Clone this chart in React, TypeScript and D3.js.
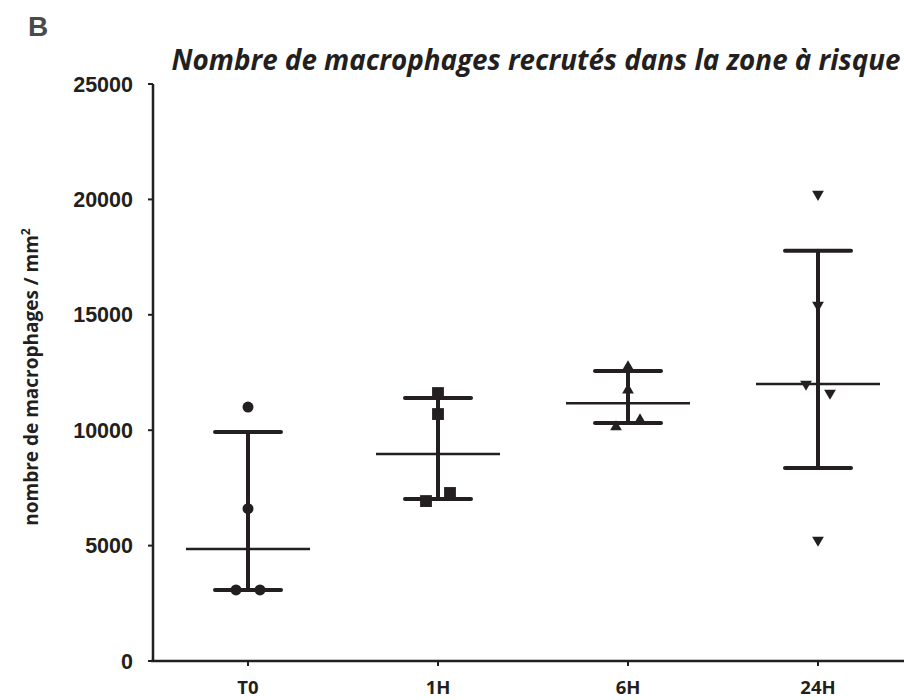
import * as d3 from 'd3'

const categories = ['T0', '1H', '6H', '24H']
const pointsT0 = [11000, 6600, 3080, 3080]
const points1H = [11610, 10700, 6930, 7280]
const points6H = [12740, 11740, 10140, 10440]
const points24H = [20230, 15420, 12000, 11610, 5240]
const centerLine = [4850, 8970, 11170, 12000]
const lowerBar = [3080, 7020, 10310, 8360]
const upperBar = [9920, 11400, 12570, 17770]
const yTicks = [0, 5000, 10000, 15000, 20000, 25000]

const groups = [pointsT0, points1H, points6H, points24H]
const symbols = [d3.symbolCircle, d3.symbolSquare, d3.symbolTriangle, d3.symbolTriangle]
const symbolSizes = [95, 140, 60, 60]
const rotations = [0, 0, 0, 180]

const W = 904
const H = 700
const ink = '#231f20'

// spread points that nearly overlap, as the scatter plot does
function offsets(vals: number[]) {
  const out = vals.map(() => 0)
  const used = vals.map(() => false)
  vals.forEach((v, i) => {
    if (used[i]) return
    const j = vals.findIndex((w, k) => k > i && !used[k] && Math.abs(w - v) < 500)
    if (j > 0) {
      out[i] = -12
      out[j] = 12
      used[i] = used[j] = true
    }
  })
  return out
}

export default function App() {
  const x = d3.scaleBand<string>().domain(categories).range([153, 913]).padding(0)
  const y = d3.scaleLinear().domain([0, 25000]).range([661, 84])
  const bw = x.bandwidth()

  return (
    <svg
      width={W}
      height={H}
      style={{ position: 'absolute', left: 0, top: 0, background: '#fff' }}
    >
      <text x={28} y={36} fontFamily="Liberation Sans, Arial" fontWeight="bold" fontSize={28} fill="#4a4a4a">
        B
      </text>
      <text
        x={536}
        y={70}
        textAnchor="middle"
        fontFamily="Open Sans"
        fontStyle="italic"
        fontWeight="bold"
        fontSize={27.8}
        fill={ink}
      >
        Nombre de macrophages recrutés dans la zone à risque
      </text>

      {/* y axis */}
      <line x1={153} x2={153} y1={y(25000)} y2={y(0)} stroke={ink} strokeWidth={2.5} />
      {yTicks.map((t) => (
        <g key={t}>
          <line x1={148} x2={153} y1={y(t)} y2={y(t)} stroke={ink} strokeWidth={2} />
          <text
            x={133}
            y={y(t)}
            dy="0.35em"
            textAnchor="end"
            fontFamily="Liberation Sans, Arial"
            fontWeight="bold"
            fontSize={21.5}
            fill={ink}
          >
            {t}
          </text>
        </g>
      ))}
      <text
        transform={`translate(38,${377}) rotate(-90)`}
        textAnchor="middle"
        fontFamily="Open Sans"
        fontWeight="bold"
        fontSize={19}
        fill={ink}
      >
        nombre de macrophages / mm<tspan dy={-8} fontSize={12}>2</tspan>
      </text>

      {/* x axis */}
      <line x1={151} x2={W} y1={y(0)} y2={y(0)} stroke={ink} strokeWidth={2.5} />
      {categories.map((c) => {
        const cx = (x(c) ?? 0) + bw / 2
        return (
          <g key={c}>
            <line x1={cx} x2={cx} y1={y(0)} y2={y(0) + 5} stroke={ink} strokeWidth={2} />
            <text
              x={cx}
              y={694}
              textAnchor="middle"
              fontFamily="Open Sans"
              fontWeight="bold"
              fontSize={18.5}
              fill={ink}
            >
              {c}
            </text>
          </g>
        )
      })}

      {/* error bars and center lines */}
      {categories.map((c, i) => {
        const cx = (x(c) ?? 0) + bw / 2
        return (
          <g key={c} stroke={ink} strokeLinecap="round">
            <line x1={cx} x2={cx} y1={y(lowerBar[i])} y2={y(upperBar[i])} strokeWidth={4} />
            <line x1={cx - 33} x2={cx + 33} y1={y(lowerBar[i])} y2={y(lowerBar[i])} strokeWidth={4} />
            <line x1={cx - 33} x2={cx + 33} y1={y(upperBar[i])} y2={y(upperBar[i])} strokeWidth={4} />
            <line
              x1={cx - 62}
              x2={cx + 62}
              y1={y(centerLine[i])}
              y2={y(centerLine[i])}
              strokeWidth={2.5}
              strokeLinecap="butt"
            />
          </g>
        )
      })}

      {/* points */}
      {categories.map((c, i) => {
        const cx = (x(c) ?? 0) + bw / 2
        const sym = d3.symbol().type(symbols[i]).size(symbolSizes[i])
        const off = offsets(groups[i])
        return (
          <g key={c} fill={ink}>
            {groups[i].map((v, k) => (
              <path
                key={k}
                d={sym() || undefined}
                transform={`translate(${cx + off[k]},${y(v)}) rotate(${rotations[i]})`}
              />
            ))}
          </g>
        )
      })}
    </svg>
  )
}
